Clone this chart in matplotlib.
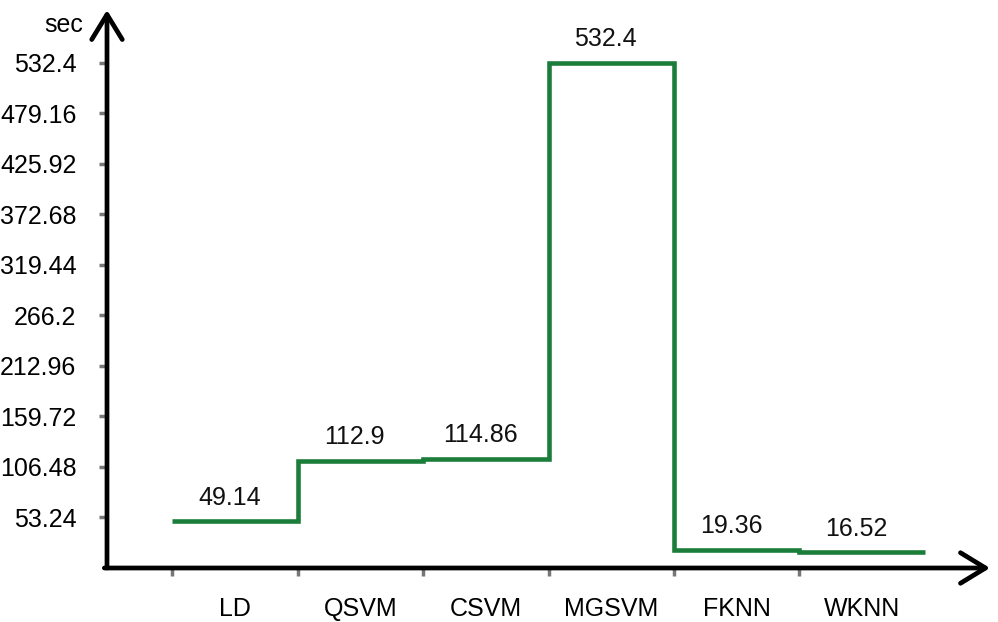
import numpy as np
import matplotlib.pyplot as plt

# Data
models = ['LD', 'QSVM', 'CSVM', 'MGSVM', 'FKNN', 'WKNN']
times = [49.14, 112.9, 114.86, 532.4, 19.36, 16.52]
yticks = [53.24, 106.48, 159.72, 212.96, 266.2, 319.44, 372.68, 425.92, 479.16, 532.4]
ytick_labels = ['53.24', '106.48', '159.72', '212.96', '266.2', '319.44',
                '372.68', '425.92', '479.16', '532.4']

plt.rcParams['font.family'] = ['Liberation Sans', 'DejaVu Sans']

fig = plt.figure(figsize=(9.98, 6.22), dpi=100)
ax = fig.add_axes([107 / 998, 54 / 622, 883 / 998, 558 / 622])

edges = np.arange(len(models) + 1)
ax.stairs(times, edges, baseline=None, color='#1b7d3a', lw=3.3)

for i, v in enumerate(times):
    ax.annotate(str(v), xy=(i + 0.5, v), xytext=(-4, 17), textcoords='offset points',
                ha='center', va='center', fontsize=18, color='#111111')

ax.set_xlim(-0.52, 6.52)
ax.set_ylim(0, 588)

for s in ax.spines.values():
    s.set_visible(False)

ax.set_yticks(yticks)
ax.set_yticklabels(ytick_labels)
ax.tick_params(axis='y', direction='out', length=6, width=2.5, color='#777777',
               labelsize=18, pad=16)

ax.set_xticks(edges[:-1])
ax.set_xticklabels([])
ax.set_xticks(edges[:-1] + 0.5, minor=True)
ax.set_xticklabels(models, minor=True)
ax.tick_params(axis='x', which='major', direction='out', length=6, width=2.5, color='#777777')
ax.tick_params(axis='x', which='minor', length=0, labelsize=18, pad=21)

arrow = dict(arrowstyle='->,head_length=0.9,head_width=0.55', lw=3.4, color='black',
             mutation_scale=20, shrinkA=0, shrinkB=0)
ax.annotate('', xy=(1, 0), xytext=(-0.003, 0), xycoords='axes fraction',
            arrowprops=arrow, annotation_clip=False)
ax.annotate('', xy=(0, 1), xytext=(0, 0), xycoords='axes fraction',
            arrowprops=arrow, annotation_clip=False)

fig.text(64 / 998, 1 - 25 / 622, 'sec', ha='center', va='center', fontsize=18)

fig.savefig('out.png', dpi=100)
